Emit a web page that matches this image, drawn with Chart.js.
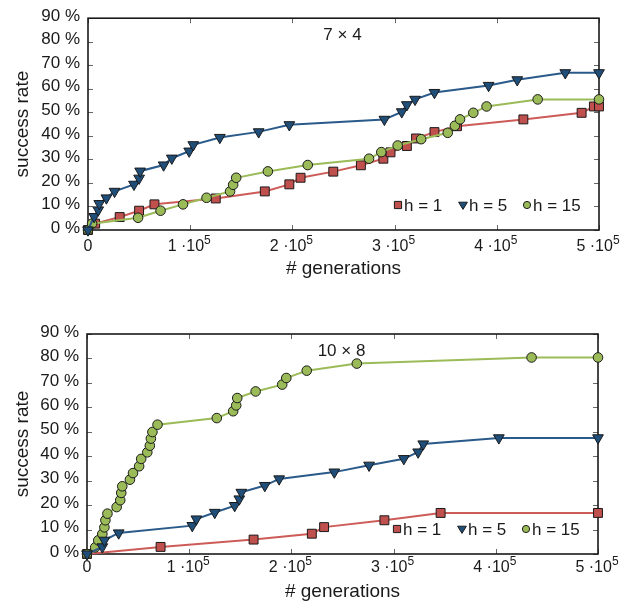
<!DOCTYPE html>
<html>
<head>
<meta charset="utf-8">
<script src="https://cdn.jsdelivr.net/npm/chart.js@4.4.1/dist/chart.umd.min.js"></script>
<style>
  body { margin: 0; background: #fff; }
  canvas { display: block; position: absolute; left: 0; }
</style>
</head>
<body>
<canvas id="chartTop" width="642" height="300" style="top:0"></canvas>
<canvas id="chartBottom" width="642" height="309" style="top:300px"></canvas>
<script>
// axis ticks
var xTicks = [0, 100000, 200000, 300000, 400000, 500000];
var yTicks = [0, 10, 20, 30, 40, 50, 60, 70, 80, 90];
var seriesLabels = ['h = 1', 'h = 5', 'h = 15'];
var panelTitles = ['7 \u00d7 4', '10 \u00d7 8'];

// 7 x 4 panel
var top_h1_gen = [0, 7000, 31000, 50000, 65000, 125000, 173000, 197000, 208000, 240000, 267000, 289000, 296000, 312000, 321000, 339000, 361000, 426000, 483000, 495000, 500000];
var top_h1_rate = [0, 2.7, 5.5, 8.2, 10.9, 13.4, 16.4, 19.4, 22.2, 24.8, 27.5, 30.3, 33.0, 35.7, 38.9, 41.6, 44.1, 47.0, 49.8, 52.5, 52.5];
var top_h5_gen = [0, 6000, 10000, 11000, 18000, 26000, 45000, 50000, 51000, 74000, 82000, 99000, 103000, 129000, 167000, 197000, 290000, 307000, 312000, 320000, 339000, 392000, 420000, 467000, 500000];
var top_h5_rate = [0, 5.7, 8.5, 11.2, 13.6, 16.4, 19.4, 22.0, 25.0, 27.6, 30.5, 33.5, 36.2, 39.3, 41.7, 44.7, 47.0, 50.2, 53.2, 55.5, 58.4, 61.4, 63.8, 66.8, 66.8];
var top_h15_gen = [0, 4000, 49000, 71000, 93000, 116000, 139000, 142000, 145000, 176000, 215000, 275000, 287000, 303000, 326000, 352000, 359000, 364000, 377000, 390000, 440000, 500000];
var top_h15_rate = [0, 2.7, 5.2, 8.2, 10.9, 13.7, 16.4, 19.2, 22.2, 24.9, 27.6, 30.3, 33.1, 35.9, 38.6, 41.3, 44.3, 47.0, 49.8, 52.5, 55.5, 55.5];

// 10 x 8 panel
var bot_h1_gen = [0, 72000, 163000, 220000, 232000, 291000, 346000, 500000];
var bot_h1_rate = [0, 2.9, 5.9, 8.3, 11.0, 13.8, 16.8, 16.8];
var bot_h5_gen = [0, 15000, 17000, 31000, 103000, 107000, 125000, 144500, 149000, 151000, 174000, 188000, 242000, 276000, 310000, 324000, 329000, 403000, 500000];
var bot_h5_rate = [0, 2.9, 5.6, 8.6, 11.6, 14.3, 17.0, 19.8, 22.5, 25.2, 28.0, 30.7, 33.5, 36.3, 39.0, 41.7, 45.0, 47.5, 47.5];
var bot_h15_gen = [0, 8000, 11000, 15000, 17000, 18000, 20000, 29000, 32500, 33500, 34500, 42000, 45000, 51000, 53000, 59000, 61500, 62500, 64000, 69000, 127000, 143000, 146000, 147000, 165000, 191000, 195000, 215000, 264000, 435000, 500000];
var bot_h15_rate = [0, 2.7, 5.6, 8.2, 10.9, 13.8, 16.5, 19.2, 22.0, 25.0, 27.7, 30.4, 33.1, 35.9, 38.9, 41.6, 44.3, 47.2, 49.9, 52.9, 55.6, 58.4, 60.8, 63.8, 66.5, 69.3, 72.0, 75.0, 77.9, 80.4, 80.4];

var FONT = '"Liberation Sans", Arial, sans-serif';
var INK = '#1a1a1a';
var styles = [
  { fill: '#c0504d', line: '#cd5c58', shape: 'rect', r: 6.3, rot: 0, order: 2 },
  { fill: '#1f4e79', line: '#2a5a8a', shape: 'triangle', r: 6.2, rot: 180, order: 0 },
  { fill: '#9bbb59', line: '#9bbb59', shape: 'circle', r: 4.8, rot: 0, order: 1 }
];

function pairs(xs, ys) {
  return xs.map(function (x, i) { return { x: x, y: ys[i] }; });
}

function marker(ctx, shape, x, y, r) {
  ctx.beginPath();
  if (shape === 'rect') {
    ctx.rect(x - r, y - r, 2 * r, 2 * r);
  } else if (shape === 'triangle') {
    ctx.moveTo(x - r * 1.1, y - r * 0.7);
    ctx.lineTo(x + r * 1.1, y - r * 0.7);
    ctx.lineTo(x, y + r * 1.1);
    ctx.closePath();
  } else {
    ctx.arc(x, y, r, 0, Math.PI * 2);
  }
  ctx.fill();
  ctx.stroke();
}

// frame with inward ticks, x labels with superscript, panel title and legend
var framePlugin = {
  id: 'frame',
  beforeDatasetsDraw: function (chart) {
    var ctx = chart.ctx, a = chart.chartArea, sx = chart.scales.x, sy = chart.scales.y;
    ctx.save();
    ctx.strokeStyle = '#666';
    ctx.lineWidth = 1;
    ctx.beginPath();
    xTicks.forEach(function (v) {
      var p = Math.round(sx.getPixelForValue(v)) + 0.5;
      ctx.moveTo(p, a.top); ctx.lineTo(p, a.top + 5);
      ctx.moveTo(p, a.bottom); ctx.lineTo(p, a.bottom - 5);
    });
    yTicks.forEach(function (v) {
      var p = Math.round(sy.getPixelForValue(v)) + 0.5;
      ctx.moveTo(a.left, p); ctx.lineTo(a.left + 5, p);
      ctx.moveTo(a.right, p); ctx.lineTo(a.right - 5, p);
    });
    ctx.stroke();
    ctx.strokeStyle = INK;
    ctx.lineWidth = 1.6;
    ctx.strokeRect(a.left, a.top, a.right - a.left, a.bottom - a.top);
    ctx.restore();
  },
  afterDatasetsDraw: function (chart, args, opts) {
    var ctx = chart.ctx, a = chart.chartArea, sx = chart.scales.x;
    ctx.save();
    ctx.fillStyle = INK;
    ctx.textBaseline = 'alphabetic';
    xTicks.forEach(function (v) {
      var p = sx.getPixelForValue(v);
      var main = v === 0 ? '0' : (v / 100000) + ' \u00b710';
      var sup = v === 0 ? '' : '5';
      ctx.font = '16px ' + FONT;
      var w1 = ctx.measureText(main).width;
      ctx.font = '12px ' + FONT;
      var w2 = sup ? ctx.measureText(sup).width : 0;
      var x0 = p - (w1 + w2) / 2 - (sup ? 1 : 0);
      ctx.textAlign = 'left';
      ctx.font = '16px ' + FONT;
      ctx.fillText(main, x0, a.bottom + opts.tickBase);
      if (sup) {
        ctx.font = '12px ' + FONT;
        ctx.fillText(sup, x0 + w1, a.bottom + opts.tickBase - 7);
      }
    });
    // panel title
    ctx.font = '17px ' + FONT;
    ctx.textAlign = 'center';
    ctx.textBaseline = 'middle';
    ctx.fillText(opts.title, (a.left + a.right) / 2 - 1, a.top + 17);
    // legend
    var ly = a.bottom - 25;
    var lx = [310, 375, 439];
    var sizes = [3.6, 4, 3.6];
    chart.data.datasets.forEach(function (ds, i) {
      var st = styles[i];
      ctx.fillStyle = st.fill;
      ctx.strokeStyle = INK;
      ctx.lineWidth = 1;
      marker(ctx, st.shape, a.left + lx[i], ly, sizes[i]);
      ctx.fillStyle = INK;
      ctx.textAlign = 'left';
      ctx.fillText(ds.label, a.left + lx[i] + 6, ly + 1);
    });
    ctx.restore();
  }
};

function makeChart(id, title, series, g) {
  var datasets = series.map(function (pts, i) {
    var st = styles[i];
    return {
      label: seriesLabels[i],
      data: pts,
      order: st.order,
      borderColor: st.line,
      borderWidth: 2,
      backgroundColor: st.fill,
      pointStyle: st.shape,
      pointRotation: st.rot,
      pointRadius: st.r,
      pointBackgroundColor: st.fill,
      pointBorderColor: INK,
      pointBorderWidth: 1,
      tension: 0,
      fill: false,
      clip: false
    };
  });
  return new Chart(document.getElementById(id), {
    type: 'line',
    data: { datasets: datasets },
    options: {
      responsive: false,
      animation: false,
      events: [],
      layout: { padding: { top: g.top, right: 642 - g.right, left: 0, bottom: 0 } },
      plugins: {
        legend: { display: false },
        tooltip: { enabled: false },
        frame: { title: title, tickBase: g.tickBase }
      },
      scales: {
        x: {
          type: 'linear',
          min: 0,
          max: 500000,
          afterBuildTicks: function (s) { s.ticks = xTicks.map(function (v) { return { value: v }; }); },
          afterFit: function (s) { s.height = g.h - g.bottom; },
          grid: { display: false, drawTicks: false },
          border: { display: false },
          ticks: { display: false },
          title: {
            display: true,
            text: '# generations',
            color: INK,
            font: { family: FONT, size: 19 },
            padding: { top: 0, bottom: g.titlePad }
          }
        },
        y: {
          min: 0,
          max: 90,
          afterBuildTicks: function (s) { s.ticks = yTicks.map(function (v) { return { value: v }; }); },
          afterFit: function (s) { s.width = g.left; },
          grid: { display: false, drawTicks: false },
          border: { display: false },
          ticks: {
            callback: function (v) { return v + ' %'; },
            color: INK,
            font: { family: FONT, size: 17 },
            padding: 8,
            labelOffset: -2
          },
          title: {
            display: true,
            text: 'success rate',
            color: INK,
            font: { family: FONT, size: 19 },
            padding: { top: 11, bottom: 0 }
          }
        }
      }
    },
    plugins: [framePlugin]
  });
}

makeChart('chartTop', panelTitles[0], [
  pairs(top_h1_gen, top_h1_rate),
  pairs(top_h5_gen, top_h5_rate),
  pairs(top_h15_gen, top_h15_rate)
], { h: 300, left: 88, right: 599, top: 11, bottom: 230, tickBase: 20.5, titlePad: 20 });

makeChart('chartBottom', panelTitles[1], [
  pairs(bot_h1_gen, bot_h1_rate),
  pairs(bot_h5_gen, bot_h5_rate),
  pairs(bot_h15_gen, bot_h15_rate)
], { h: 309, left: 87, right: 598, top: 34, bottom: 254, tickBase: 17.5, titlePad: 6 });
</script>
</body>
</html>
